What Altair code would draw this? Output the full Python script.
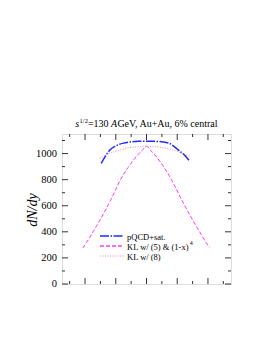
import altair as alt
import pandas as pd

# ---- data ----
pqcd_x = [-2.95, -2.7, -2.4, -2.0, -1.76, -1.5, -1.0, -0.5, 0.0, 0.5, 1.0, 1.5, 1.7, 2.15, 2.5, 2.8]
pqcd_y = [925, 975, 1025, 1058, 1071, 1080, 1090, 1094, 1095, 1094, 1090, 1078, 1062, 1020, 985, 943]

kl5_x = [-4.15, -3.9, -3.6, -3.3, -3.0, -2.7, -2.4, -2.1, -1.8, -1.5, -1.2, -0.9, -0.6, -0.3, 0.0,
         0.3, 0.6, 0.9, 1.2, 1.5, 1.8, 2.1, 2.4, 2.7, 3.0, 3.3, 3.6, 3.9, 4.1]
kl5_y = [275, 318, 376, 436, 496, 560, 628, 700, 775, 840, 893, 942, 986, 1022, 1056,
         1020, 982, 936, 884, 826, 760, 690, 620, 555, 492, 432, 372, 314, 280]

kl8_x = [-3.06, -2.6, -2.19, -1.8, -1.32, -0.8, -0.4, 0.0, 0.4, 0.8, 1.32, 1.8, 2.2, 2.6, 2.9]
kl8_y = [964, 992, 1010, 1025, 1041, 1050, 1054, 1055, 1054, 1050, 1041, 1025, 1008, 990, 975]

x_major = [-4, -2, 0, 2, 4]
x_minor = [-5, -3, -1, 1, 3, 5]
y_major = [0, 200, 400, 600, 800, 1000]
y_minor = [100, 300, 500, 700, 900, 1100]
y_labels = ["0", "200", "400", "600", "800", "1000"]

legend_labels = ["pQCD+sat.", "KL w/ (5) & (1-x)", "KL w/ (8)"]
title_parts = ["s", "1/2", "=130 ", "A", "GeV, Au+Au, 6% central"]

W, H = 169, 150
FONT = "Liberation Serif"
xs = alt.Scale(domain=[-5.5, 5.5], nice=False, zero=False)
ys = alt.Scale(domain=[0, 1150], nice=False, zero=False)

def curve(xv, yv, color, dash, width):
    df = pd.DataFrame({"x": xv, "y": yv})
    return alt.Chart(df).mark_line(color=color, strokeDash=dash, strokeWidth=width,
                                   interpolate="monotone").encode(
        x=alt.X("x:Q", scale=xs, axis=None),
        y=alt.Y("y:Q", scale=ys, axis=None),
    )

BLUE_DASH = [9, 1.5, 1.5, 1.5]
pink = curve(kl5_x, kl5_y, "#ff3cff", [4, 2], 1)
red = curve(kl8_x, kl8_y, "#ff8a8a", [1, 1.5], 1)
blue = curve(pqcd_x, pqcd_y, "#1f2bff", BLUE_DASH, 1.5)

def xticks(vals, length):
    df = pd.DataFrame({"x": vals})
    bot = alt.Chart(df).mark_rule(color="black", strokeWidth=0.8).encode(
        x=alt.X("x:Q", scale=xs, axis=None), y=alt.value(H), y2=alt.value(H - length))
    top = alt.Chart(df).mark_rule(color="black", strokeWidth=0.8).encode(
        x=alt.X("x:Q", scale=xs, axis=None), y=alt.value(0), y2=alt.value(length))
    return [bot, top]

def yticks(vals, length):
    df = pd.DataFrame({"y": vals})
    left = alt.Chart(df).mark_rule(color="black", strokeWidth=0.8).encode(
        y=alt.Y("y:Q", scale=ys, axis=None), x=alt.value(0), x2=alt.value(length))
    right = alt.Chart(df).mark_rule(color="black", strokeWidth=0.8).encode(
        y=alt.Y("y:Q", scale=ys, axis=None), x=alt.value(W), x2=alt.value(W - length))
    return [left, right]

ylab_df = pd.DataFrame({"y": y_major, "t": y_labels})
ytext = alt.Chart(ylab_df).mark_text(font=FONT, fontSize=10.5, align="right", baseline="middle",
                                     color="black").encode(
    y=alt.Y("y:Q", scale=ys, axis=None), x=alt.value(-5), text="t:N")

one = pd.DataFrame({"a": [0]})

# legend
leg_rows = [102, 112, 122]
leg_specs = [("#1f2bff", BLUE_DASH, 1.5), ("#ff3cff", [4, 2], 1.5), ("#ff8a8a", [1, 1.5], 1)]
legend = []
for (col, dash, wdt), yy, lab in zip(leg_specs, leg_rows, legend_labels):
    legend.append(alt.Chart(one).mark_rule(color=col, strokeDash=dash, strokeWidth=wdt).encode(
        x=alt.value(38), x2=alt.value(62), y=alt.value(yy)))
    legend.append(alt.Chart(one).mark_text(text=lab, font=FONT, fontSize=8.5, align="left",
                                           baseline="middle", color="black").encode(
        x=alt.value(65), y=alt.value(yy + 0.5)))
legend.append(alt.Chart(one).mark_text(text="4", font=FONT, fontSize=6, align="left",
                                       baseline="middle", color="black").encode(
    x=alt.value(127.8), y=alt.value(108.5)))

# title
tx = [13.3, 17.6, 25.9, 49.0, 55.4]
ty = [-7, -11, -7, -7, -7]
tsz = [10, 6.5, 10, 10, 10]
tst = ["italic", "normal", "normal", "italic", "normal"]
title = []
for t, x0, y0, s, st in zip(title_parts, tx, ty, tsz, tst):
    title.append(alt.Chart(one).mark_text(text=t, font=FONT, fontSize=s, fontStyle=st,
                                          align="left", baseline="alphabetic", color="black").encode(
        x=alt.value(x0), y=alt.value(y0)))

ylabel = alt.Chart(one).mark_text(text="dN/dy", font=FONT, fontSize=14, fontStyle="italic",
                                  angle=270, align="center", baseline="middle", color="black").encode(
    x=alt.value(-29.5), y=alt.value(76))

layers = ([pink, red, blue] + xticks(x_major, 6) + xticks(x_minor, 3) + yticks(y_major, 6)
          + yticks(y_minor, 3) + [ytext, ylabel] + legend + title)

chart = alt.layer(*layers).properties(
    width=W, height=H,
    autosize=alt.AutoSizeParams(type="none"),
    padding={"left": 54, "top": 126, "right": 30, "bottom": 50},
).configure_view(stroke="black", strokeWidth=1).configure(background="white")

chart.save("out.html", embed_options={"renderer": "svg", "actions": False})
